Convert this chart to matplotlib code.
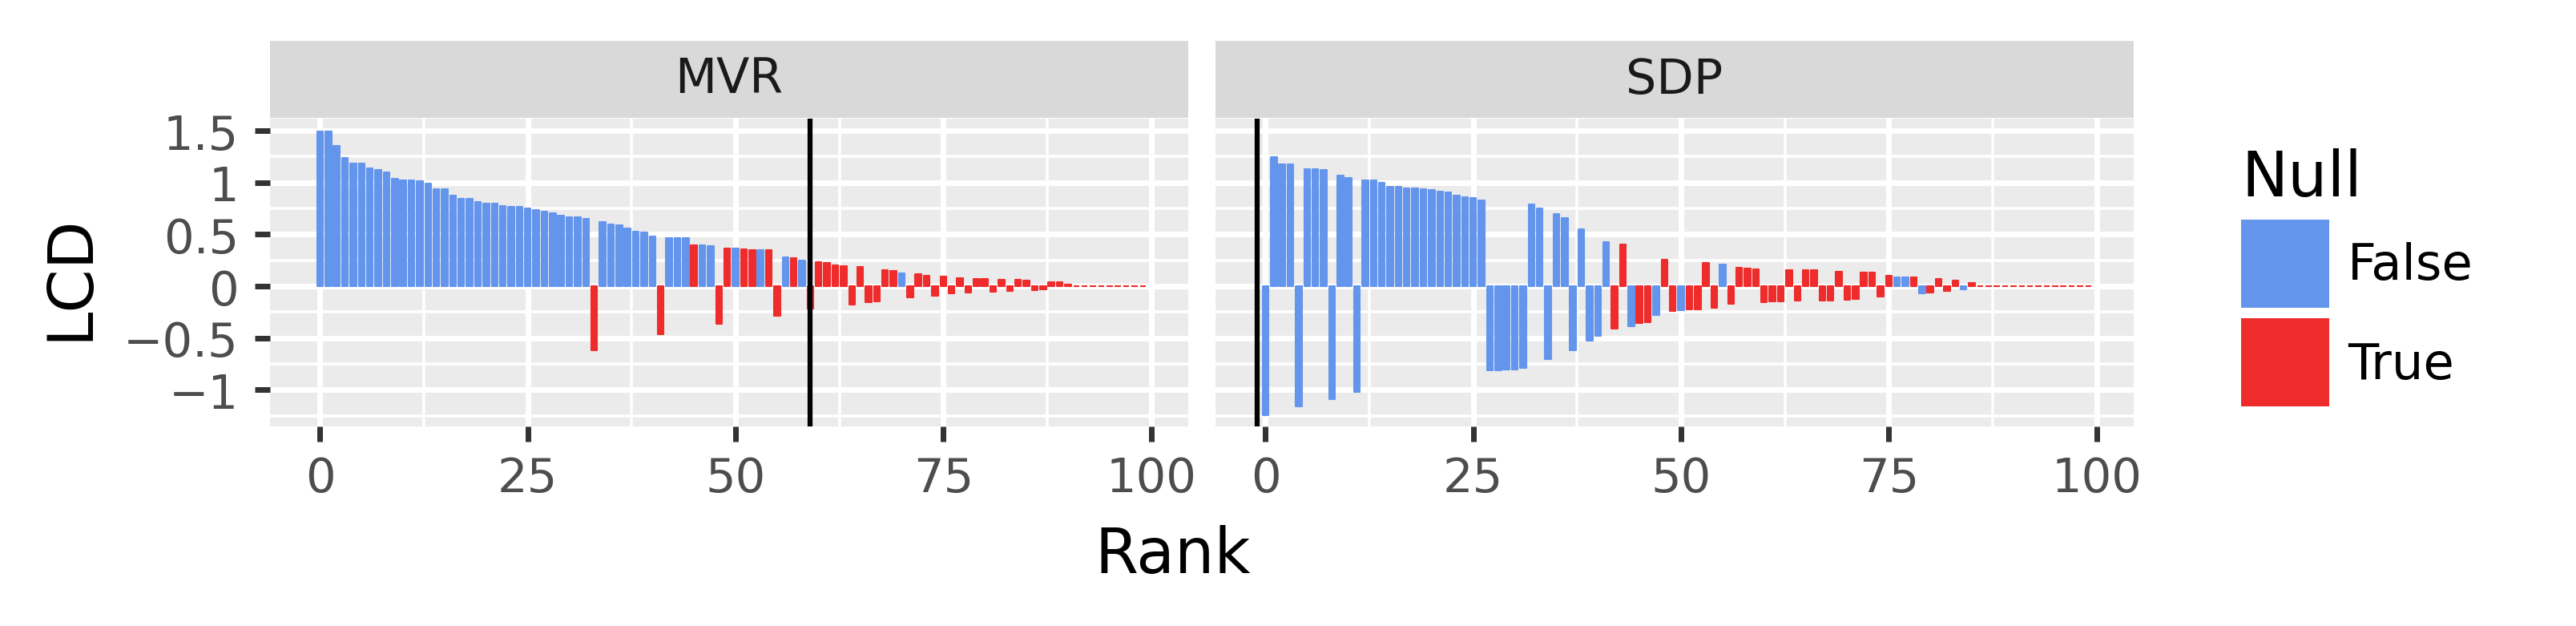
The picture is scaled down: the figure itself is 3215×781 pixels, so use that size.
import matplotlib
matplotlib.use("Agg")
import matplotlib.pyplot as plt
import numpy as np
from matplotlib.patches import Patch

# rank positions shared by both facets
ranks = np.arange(100)

mvr_lcd = [1.49, 1.49, 1.35, 1.234, 1.18, 1.18, 1.136, 1.12, 1.10, 1.033,
           1.018, 1.018, 1.01, 0.99, 0.933, 0.933, 0.87, 0.84, 0.84, 0.81,
           0.80, 0.80, 0.77, 0.763, 0.763, 0.748, 0.733, 0.717, 0.70, 0.68,
           0.663, 0.663, 0.648, -0.617, 0.617, 0.594, 0.586, 0.555, 0.524, 0.517,
           0.48, -0.463, 0.463, 0.463, 0.463, 0.393, 0.393, 0.386, -0.365, 0.362,
           0.362, 0.355, 0.347, 0.347, 0.347, -0.288, 0.278, 0.27, 0.247, -0.213,
           0.231, 0.224, 0.2, 0.193, -0.175, 0.185, -0.154, -0.147, 0.154, 0.147,
           0.123, -0.108, 0.116, 0.103, -0.09, 0.09, -0.069, 0.077, -0.059, 0.069,
           0.069, -0.054, 0.059, -0.046, 0.059, 0.054, -0.039, -0.033, 0.035, 0.035,
           0.015, 0, 0, 0, 0, 0, 0, 0, 0, 0]
mvr_null = [0, 0, 0, 0, 0, 0, 0, 0, 0, 0,
            0, 0, 0, 0, 0, 0, 0, 0, 0, 0,
            0, 0, 0, 0, 0, 0, 0, 0, 0, 0,
            0, 0, 0, 1, 0, 0, 0, 0, 0, 0,
            0, 1, 0, 0, 0, 1, 0, 0, 1, 1,
            0, 1, 1, 0, 1, 1, 0, 1, 0, 1,
            1, 1, 1, 1, 1, 1, 1, 1, 1, 1,
            0, 1, 1, 1, 1, 1, 1, 1, 1, 1,
            1, 1, 1, 1, 1, 1, 1, 1, 1, 1,
            1, 1, 1, 1, 1, 1, 1, 1, 1, 1]

sdp_lcd = [-1.242, 1.247, 1.177, 1.177, -1.157, 1.126, 1.126, 1.118, -1.093, 1.064,
           1.041, -1.023, 1.023, 1.023, 0.995, 0.961, 0.961, 0.946, 0.946, 0.933,
           0.925, 0.91, 0.902, 0.871, 0.861, 0.848, 0.83, -0.815, -0.81, -0.802,
           -0.802, -0.787, 0.792, 0.753, -0.707, 0.694, 0.656, -0.617, 0.548, -0.522,
           -0.48, 0.424, -0.409, 0.401, -0.386, -0.355, -0.347, -0.278, 0.254, -0.239,
           -0.231, -0.224, -0.224, 0.224, -0.208, 0.206, -0.167, 0.177, 0.17, 0.162,
           -0.154, -0.147, -0.147, 0.152, -0.136, 0.154, 0.154, -0.141, -0.141, 0.139,
           -0.13, -0.123, 0.131, 0.131, -0.1, 0.1, 0.085, 0.085, 0.085, -0.069,
           -0.062, 0.069, -0.046, 0.054, -0.033, 0.03, 0, 0, 0, 0,
           0, 0, 0, 0, 0, 0, 0, 0, 0, 0]
sdp_null = [0, 0, 0, 0, 0, 0, 0, 0, 0, 0,
            0, 0, 0, 0, 0, 0, 0, 0, 0, 0,
            0, 0, 0, 0, 0, 0, 0, 0, 0, 0,
            0, 0, 0, 0, 0, 0, 0, 0, 0, 0,
            0, 0, 1, 1, 0, 1, 1, 0, 1, 1,
            0, 1, 1, 1, 1, 0, 1, 1, 1, 1,
            1, 1, 1, 1, 1, 1, 1, 1, 1, 1,
            1, 1, 1, 1, 1, 1, 0, 0, 1, 0,
            1, 1, 1, 1, 0, 1, 1, 1, 1, 1,
            1, 1, 1, 1, 1, 1, 1, 1, 1, 1]

facets = ["MVR", "SDP"]
cutoffs = [59, -1]
null_labels = ["False", "True"]

BLUE = "#6495ED"
RED = "#EE2C2C"
W, H = 3215, 782

fig = plt.figure(figsize=(W / 300, H / 300), dpi=300)


def px_axes(x0, y0, x1, y1):
    return fig.add_axes([x0 / W, 1 - y1 / H, (x1 - x0) / W, (y1 - y0) / H])


def panel(ax, lcd, null, cut, left):
    cols = [RED if n else BLUE for n in null]
    ax.bar(ranks, lcd, width=0.72, color=cols, edgecolor=cols,
           linewidth=0.5, joinstyle="round")
    ax.axvline(cut, color="black", lw=1.5)
    ax.set_xlim(-6.02, 104.47)
    ax.set_ylim(-1.353, 1.616)
    ax.set_facecolor("#EBEBEB")
    for s in ax.spines.values():
        s.set_visible(False)
    ax.set_xticks([0, 25, 50, 75, 100])
    ax.set_xticks([12.5, 37.5, 62.5, 87.5], minor=True)
    ax.set_yticks([-1, -0.5, 0, 0.5, 1, 1.5])
    ax.set_yticks([-1.25, -0.75, -0.25, 0.25, 0.75, 1.25], minor=True)
    ax.set_axisbelow(True)
    ax.grid(which="major", color="white", lw=1.68)
    ax.grid(which="minor", color="white", lw=0.84)
    ax.tick_params(which="major", length=4.6, width=1.68, color="#333333",
                   labelcolor="#4D4D4D", labelsize=14.2)
    ax.tick_params(which="minor", length=0)
    ax.tick_params(axis="x", pad=4.0)
    ax.tick_params(axis="y", pad=4.8)
    if left:
        ax.set_yticklabels(["\u22121", "\u22120.5", "0", "0.5", "1", "1.5"])
    else:
        ax.tick_params(axis="y", left=False, labelleft=False)


panels_x = [(337, 1483), (1517, 2663)]
datasets = [(mvr_lcd, mvr_null), (sdp_lcd, sdp_null)]
for i, ((x0, x1), (lcd, null)) in enumerate(zip(panels_x, datasets)):
    ax = px_axes(x0, 149, x1, 533)
    panel(ax, lcd, null, cutoffs[i], i == 0)
    strip = px_axes(x0, 52, x1, 148)
    strip.set_facecolor("#D9D9D9")
    strip.set_xticks([])
    strip.set_yticks([])
    for s in strip.spines.values():
        s.set_visible(False)
    strip.text(0.5, 0.5, facets[i], ha="center", va="center",
               fontsize=14.5, color="#1A1A1A", transform=strip.transAxes)

fig.text(1464 / W, 1 - 693 / H, "Rank", ha="center", va="center", fontsize=18.7)
fig.text(87 / W, 1 - 346 / H, "LCD", ha="center", va="center", rotation=90, fontsize=18.7)

handles = [Patch(facecolor=BLUE, label=null_labels[0]),
           Patch(facecolor=RED, label=null_labels[1])]
leg = fig.legend(handles=handles, title="Null", loc="upper left",
                 bbox_to_anchor=(2797 / W, 1 - 185 / H), frameon=False,
                 fontsize=15, title_fontsize=18.7, handlelength=1.76,
                 handleheight=2.33, handletextpad=0.37, labelspacing=0.22,
                 borderpad=0, borderaxespad=0)
leg._legend_box.align = "left"

fig.savefig("out.png", dpi=300)
